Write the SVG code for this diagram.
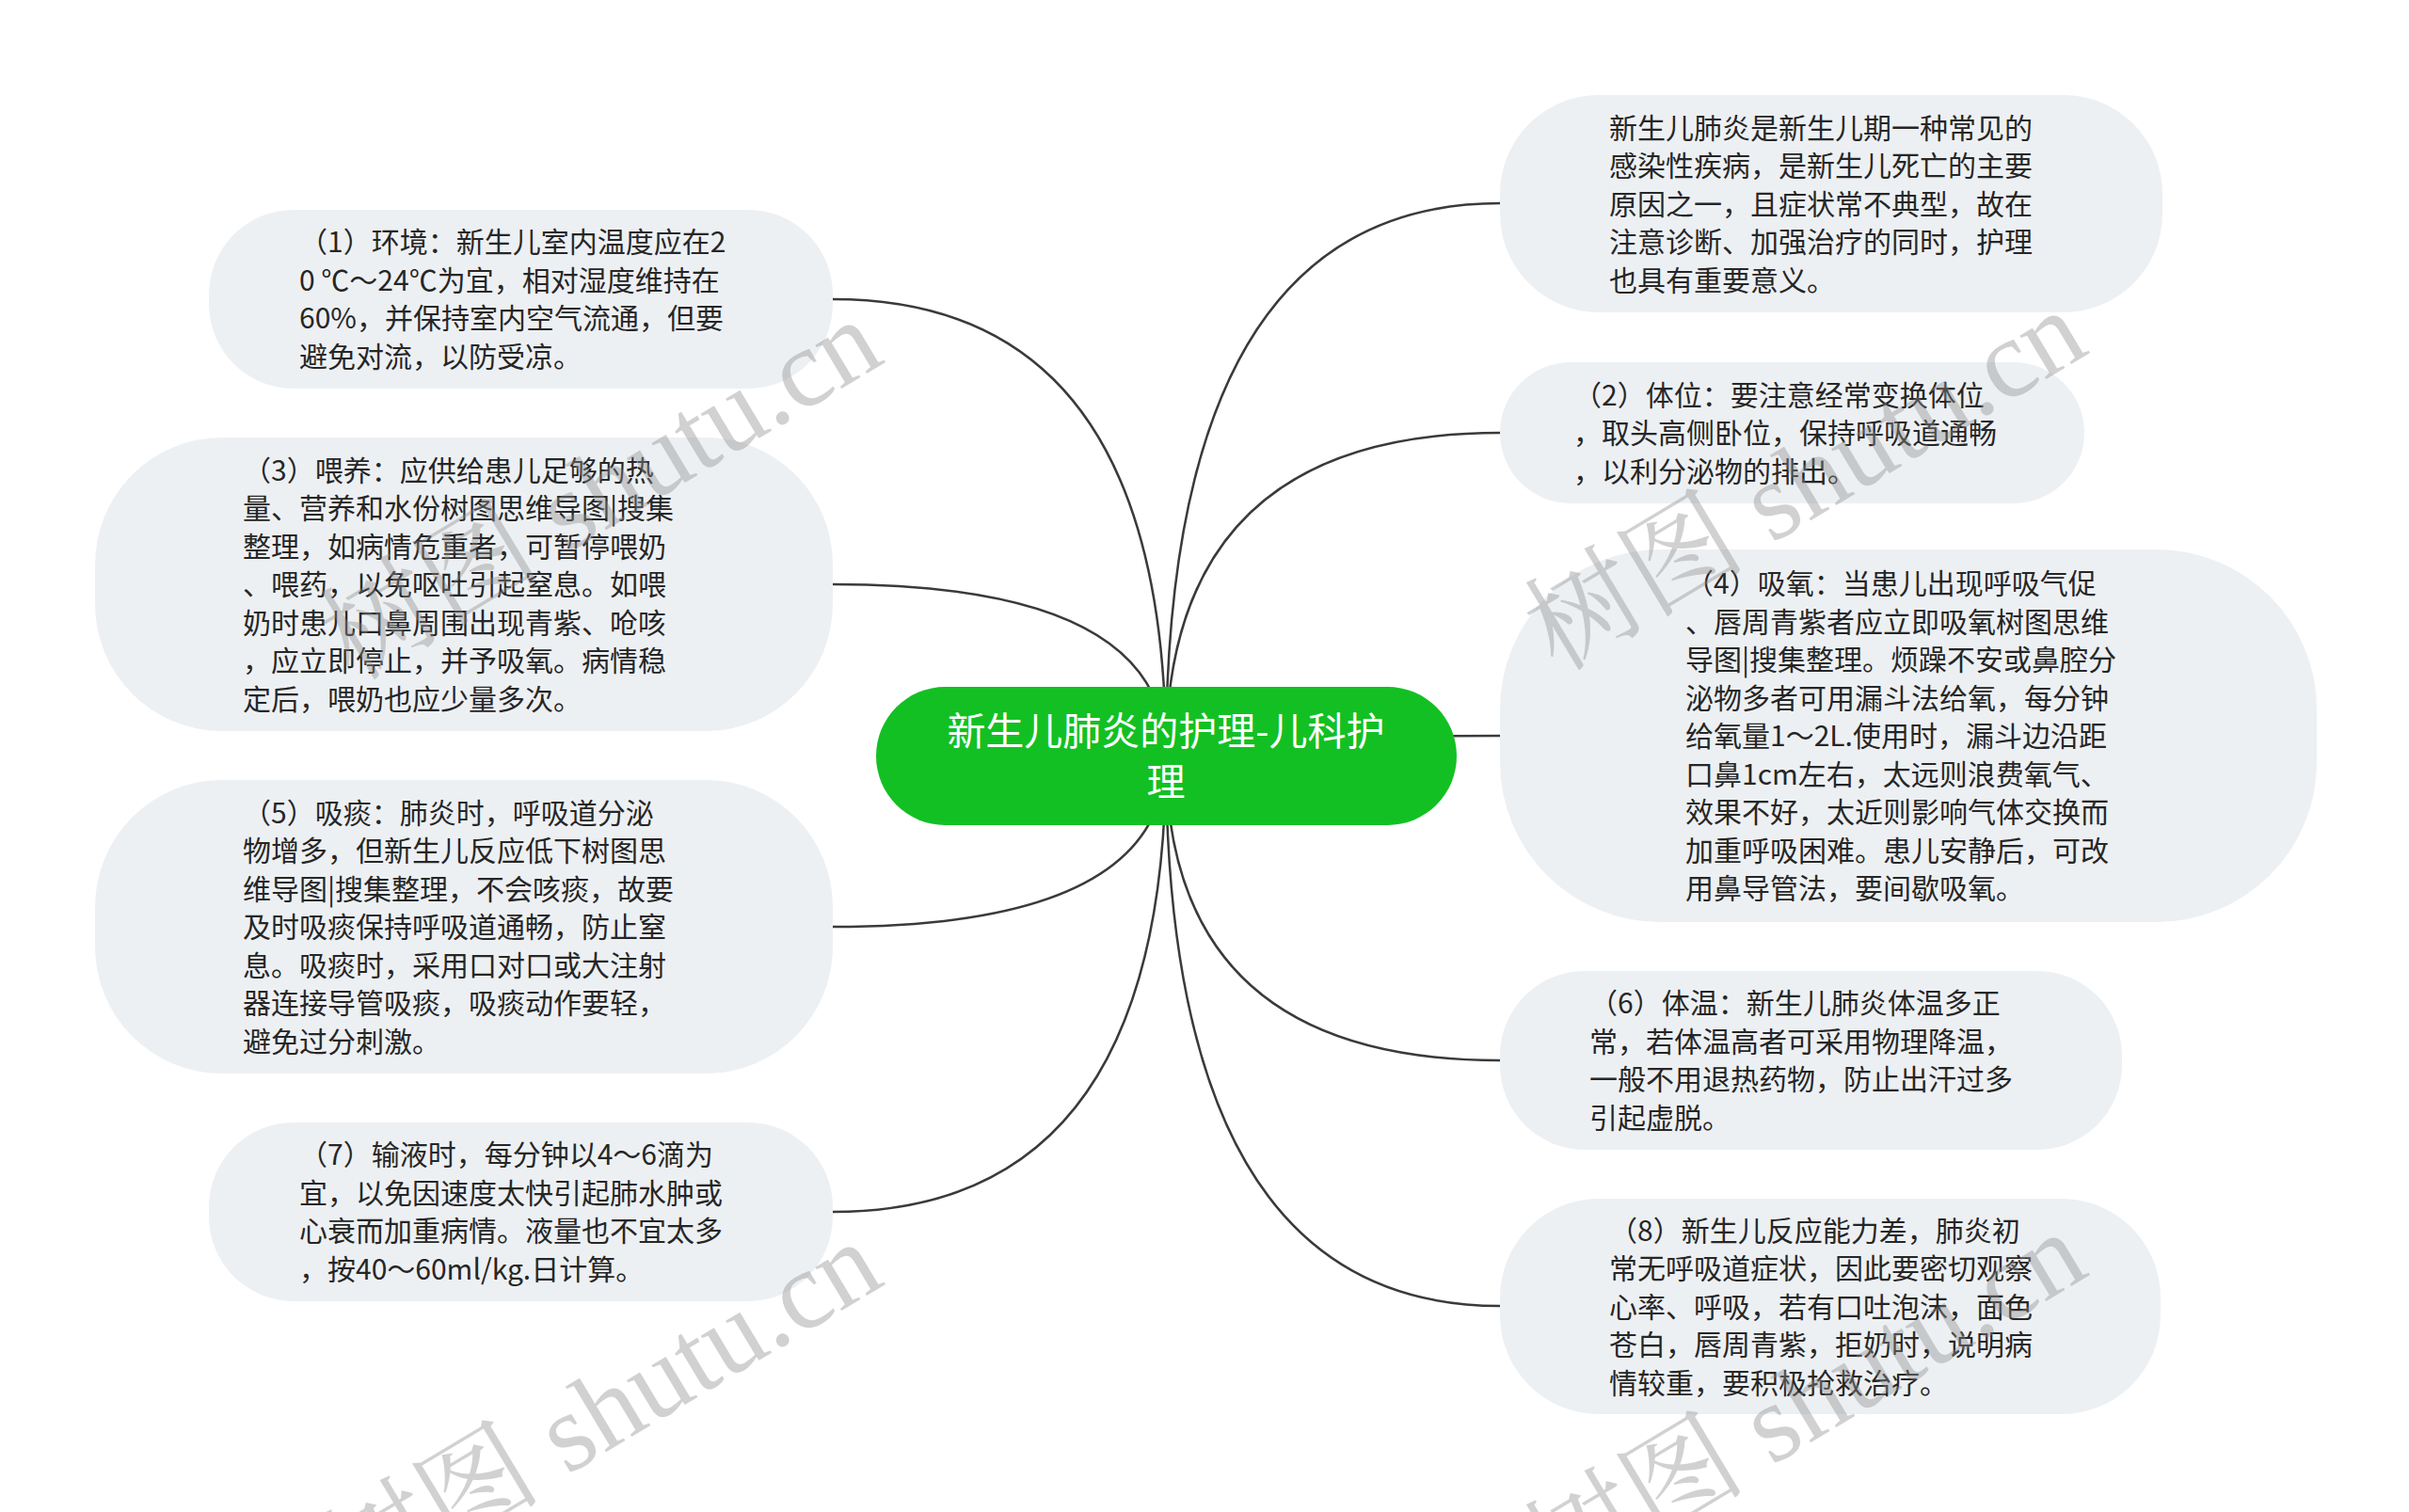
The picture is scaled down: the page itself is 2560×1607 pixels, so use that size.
<svg xmlns="http://www.w3.org/2000/svg" width="2560" height="1607" viewBox="0 0 2560 1607">
<style>
.bg{fill:#ffffff}
.node rect{fill:#edf0f3}
.node text{font-family:"Noto Sans CJK SC","Noto Sans",sans-serif;font-size:30px;fill:#262626}
.root rect{fill:#13c023}
.root text{font-family:"Noto Sans CJK SC","Noto Sans",sans-serif;font-size:41px;fill:#ffffff;text-anchor:middle}
.links path{fill:none;stroke:#3a3a3a;stroke-width:2.5}
.wm{font-family:"Liberation Serif","Noto Serif CJK SC","Noto Sans CJK SC",serif;font-size:118px;fill:#8c8c8c;fill-opacity:0.4}
</style>
<rect class="bg" x="0" y="0" width="2560" height="1607"/>
<g class="links" id="connectors">
<path d="M1239 803 Q1239 318 885 318"/>
<path d="M1239 803 Q1239 621 885 621"/>
<path d="M1239 803 Q1239 985 885 985"/>
<path d="M1239 803 Q1239 1288 885 1288"/>
<path d="M1239 803 Q1239 216 1594 216"/>
<path d="M1239 803 Q1239 460 1594 460"/>
<path d="M1239 803 Q1239 782 1594 782"/>
<path d="M1239 803 Q1239 1127 1594 1127"/>
<path d="M1239 803 Q1239 1388 1594 1388"/>
</g>
<g class="root" id="root">
<rect x="931" y="730" width="617" height="147" rx="73.5"/>
<text x="1239" y="792">新生儿肺炎的护理-儿科护</text>
<text x="1239" y="846">理</text>
</g>
<g class="node" id="n1">
<rect x="222" y="223" width="663" height="190" rx="90"/>
<text x="318" y="268"><tspan x="318">（1）环境：新生儿室内温度应在2</tspan><tspan x="318" dy="40.5">0 ℃～24℃为宜，相对湿度维持在</tspan><tspan x="318" dy="40.5">60%，并保持室内空气流通，但要</tspan><tspan x="318" dy="40.5">避免对流，以防受凉。</tspan></text>
</g>
<g class="node" id="n3">
<rect x="101" y="465" width="784" height="312" rx="135"/>
<text x="258" y="510.5"><tspan x="258">（3）喂养：应供给患儿足够的热</tspan><tspan x="258" dy="40.5">量、营养和水份树图思维导图|搜集</tspan><tspan x="258" dy="40.5">整理，如病情危重者，可暂停喂奶</tspan><tspan x="258" dy="40.5">、喂药，以免呕吐引起窒息。如喂</tspan><tspan x="258" dy="40.5">奶时患儿口鼻周围出现青紫、呛咳</tspan><tspan x="258" dy="40.5">，应立即停止，并予吸氧。病情稳</tspan><tspan x="258" dy="40.5">定后，喂奶也应少量多次。</tspan></text>
</g>
<g class="node" id="n5">
<rect x="101" y="829" width="784" height="312" rx="135"/>
<text x="258" y="874.5"><tspan x="258">（5）吸痰：肺炎时，呼吸道分泌</tspan><tspan x="258" dy="40.5">物增多，但新生儿反应低下树图思</tspan><tspan x="258" dy="40.5">维导图|搜集整理，不会咳痰，故要</tspan><tspan x="258" dy="40.5">及时吸痰保持呼吸道通畅，防止窒</tspan><tspan x="258" dy="40.5">息。吸痰时，采用口对口或大注射</tspan><tspan x="258" dy="40.5">器连接导管吸痰，吸痰动作要轻，</tspan><tspan x="258" dy="40.5">避免过分刺激。</tspan></text>
</g>
<g class="node" id="n7">
<rect x="222" y="1193" width="663" height="190" rx="90"/>
<text x="318" y="1238"><tspan x="318">（7）输液时，每分钟以4～6滴为</tspan><tspan x="318" dy="40.5">宜，以免因速度太快引起肺水肿或</tspan><tspan x="318" dy="40.5">心衰而加重病情。液量也不宜太多</tspan><tspan x="318" dy="40.5">，按40～60ml/kg.日计算。</tspan></text>
</g>
<g class="node" id="n0">
<rect x="1594" y="101" width="704" height="231" rx="105"/>
<text x="1710" y="146.5"><tspan x="1710">新生儿肺炎是新生儿期一种常见的</tspan><tspan x="1710" dy="40.5">感染性疾病，是新生儿死亡的主要</tspan><tspan x="1710" dy="40.5">原因之一，且症状常不典型，故在</tspan><tspan x="1710" dy="40.5">注意诊断、加强治疗的同时，护理</tspan><tspan x="1710" dy="40.5">也具有重要意义。</tspan></text>
</g>
<g class="node" id="n2">
<rect x="1594" y="385" width="621" height="150" rx="75"/>
<text x="1672" y="430.5"><tspan x="1672">（2）体位：要注意经常变换体位</tspan><tspan x="1672" dy="40.5">，取头高侧卧位，保持呼吸道通畅</tspan><tspan x="1672" dy="40.5">，以利分泌物的排出。</tspan></text>
</g>
<g class="node" id="n4">
<rect x="1594" y="584" width="868" height="396" rx="170"/>
<text x="1791" y="631"><tspan x="1791">（4）吸氧：当患儿出现呼吸气促</tspan><tspan x="1791" dy="40.5">、唇周青紫者应立即吸氧树图思维</tspan><tspan x="1791" dy="40.5">导图|搜集整理。烦躁不安或鼻腔分</tspan><tspan x="1791" dy="40.5">泌物多者可用漏斗法给氧，每分钟</tspan><tspan x="1791" dy="40.5">给氧量1～2L.使用时，漏斗边沿距</tspan><tspan x="1791" dy="40.5">口鼻1cm左右，太远则浪费氧气、</tspan><tspan x="1791" dy="40.5">效果不好，太近则影响气体交换而</tspan><tspan x="1791" dy="40.5">加重呼吸困难。患儿安静后，可改</tspan><tspan x="1791" dy="40.5">用鼻导管法，要间歇吸氧。</tspan></text>
</g>
<g class="node" id="n6">
<rect x="1594" y="1032" width="661" height="190" rx="90"/>
<text x="1689" y="1077"><tspan x="1689">（6）体温：新生儿肺炎体温多正</tspan><tspan x="1689" dy="40.5">常，若体温高者可采用物理降温，</tspan><tspan x="1689" dy="40.5">一般不用退热药物，防止出汗过多</tspan><tspan x="1689" dy="40.5">引起虚脱。</tspan></text>
</g>
<g class="node" id="n8">
<rect x="1594" y="1274" width="702" height="229" rx="105"/>
<text x="1710" y="1318.5"><tspan x="1710">（8）新生儿反应能力差，肺炎初</tspan><tspan x="1710" dy="40.5">常无呼吸道症状，因此要密切观察</tspan><tspan x="1710" dy="40.5">心率、呼吸，若有口吐泡沫，面色</tspan><tspan x="1710" dy="40.5">苍白，唇周青紫，拒奶时，说明病</tspan><tspan x="1710" dy="40.5">情较重，要积极抢救治疗。</tspan></text>
</g>
<g id="watermarks">
<text class="wm" transform="translate(1655 715) rotate(-31)">树图 shutu.cn</text>
<text class="wm" transform="translate(375 725) rotate(-31)">树图 shutu.cn</text>
<text class="wm" transform="translate(375 1705) rotate(-31)">树图 shutu.cn</text>
<text class="wm" transform="translate(1655 1695) rotate(-31)">树图 shutu.cn</text>
</g>
</svg>
